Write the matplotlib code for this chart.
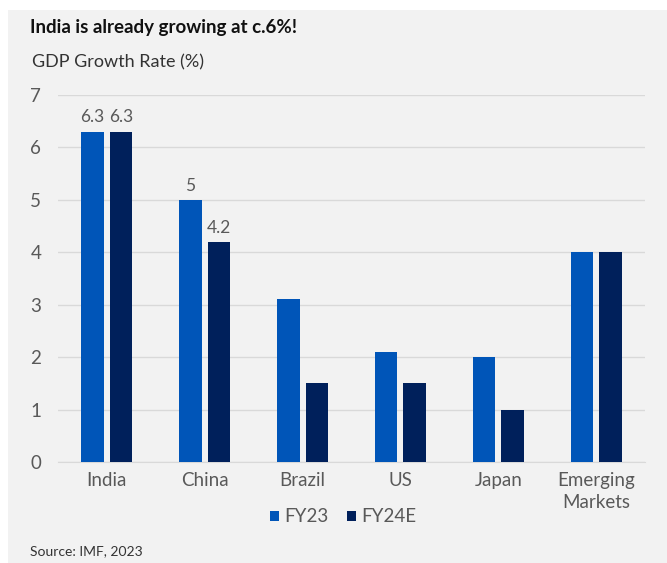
import numpy as np
import matplotlib.pyplot as plt
from matplotlib.patches import Rectangle

categories = ['India', 'China', 'Brazil', 'US', 'Japan', 'Emerging\nMarkets']
fy23 = [6.3, 5.0, 3.1, 2.1, 2.0, 4.0]
fy24e = [6.3, 4.2, 1.5, 1.5, 1.0, 4.0]
fy23_labels = ['6.3', '5', None, None, None, None]
fy24e_labels = ['6.3', '4.2', None, None, None, None]

C23 = '#0055b8'
C24 = '#00205b'
GREY = '#595959'

plt.rcParams['font.family'] = ['Lato', 'DejaVu Sans']

fig = plt.figure(figsize=(6.67, 5.63), dpi=100)
fig.patches.append(Rectangle((8 / 667, 0), 1, 1 - 10 / 563, transform=fig.transFigure,
                             facecolor='#f2f2f2', edgecolor='none', zorder=-10))

ax = fig.add_axes([58 / 667, 1 - 462 / 563, 587 / 667, 367 / 563])
ax.set_facecolor('none')

x = np.arange(len(categories))
w = 0.23
off = 0.145
b1 = ax.bar(x - off, fy23, w, color=C23, label='FY23', zorder=3)
b2 = ax.bar(x + off, fy24e, w, color=C24, label='FY24E', zorder=3)

for rect, lbl in zip(b1, fy23_labels):
    if lbl:
        ax.text(rect.get_x() + rect.get_width() / 2, rect.get_height() + 0.12, lbl,
                ha='center', va='bottom', fontsize=12.5, color=GREY)
for rect, lbl in zip(b2, fy24e_labels):
    if lbl:
        ax.text(rect.get_x() + rect.get_width() / 2, rect.get_height() + 0.12, lbl,
                ha='center', va='bottom', fontsize=12.5, color=GREY)

ax.set_xlim(-0.5, len(categories) - 0.5)
ax.set_ylim(0, 7)
ax.set_yticks(range(0, 8))
ax.set_xticks(x)
ax.set_xticklabels(categories, fontsize=13.5, color=GREY, linespacing=1.35)
ax.tick_params(axis='y', labelsize=13.5, colors=GREY, length=0, pad=12)
ax.tick_params(axis='x', length=0, pad=7)
ax.grid(axis='y', color='#d9d9d9', lw=1, zorder=0)
for s in ['top', 'right', 'left']:
    ax.spines[s].set_visible(False)
ax.spines['bottom'].set_color('#d9d9d9')

leg = fig.legend(loc='center', bbox_to_anchor=(343 / 667, 1 - 517 / 563), ncol=2,
                 frameon=False, fontsize=13.5, handlelength=0.5, handleheight=0.5,
                 handletextpad=0.25, columnspacing=1.0)
for t in leg.get_texts():
    t.set_color(GREY)

fig.text(30 / 667, 1 - 28 / 563, 'India is already growing at c.6%!', fontsize=13.5,
         fontweight='bold', color='#111111', va='center')
fig.text(32 / 667, 1 - 62 / 563, 'GDP Growth Rate (%)', fontsize=13, color='#333333', va='center')
fig.text(30 / 667, 1 - 551 / 563, 'Source: IMF, 2023', fontsize=10, color='#333333', va='center')

fig.savefig('out.png', dpi=100)
